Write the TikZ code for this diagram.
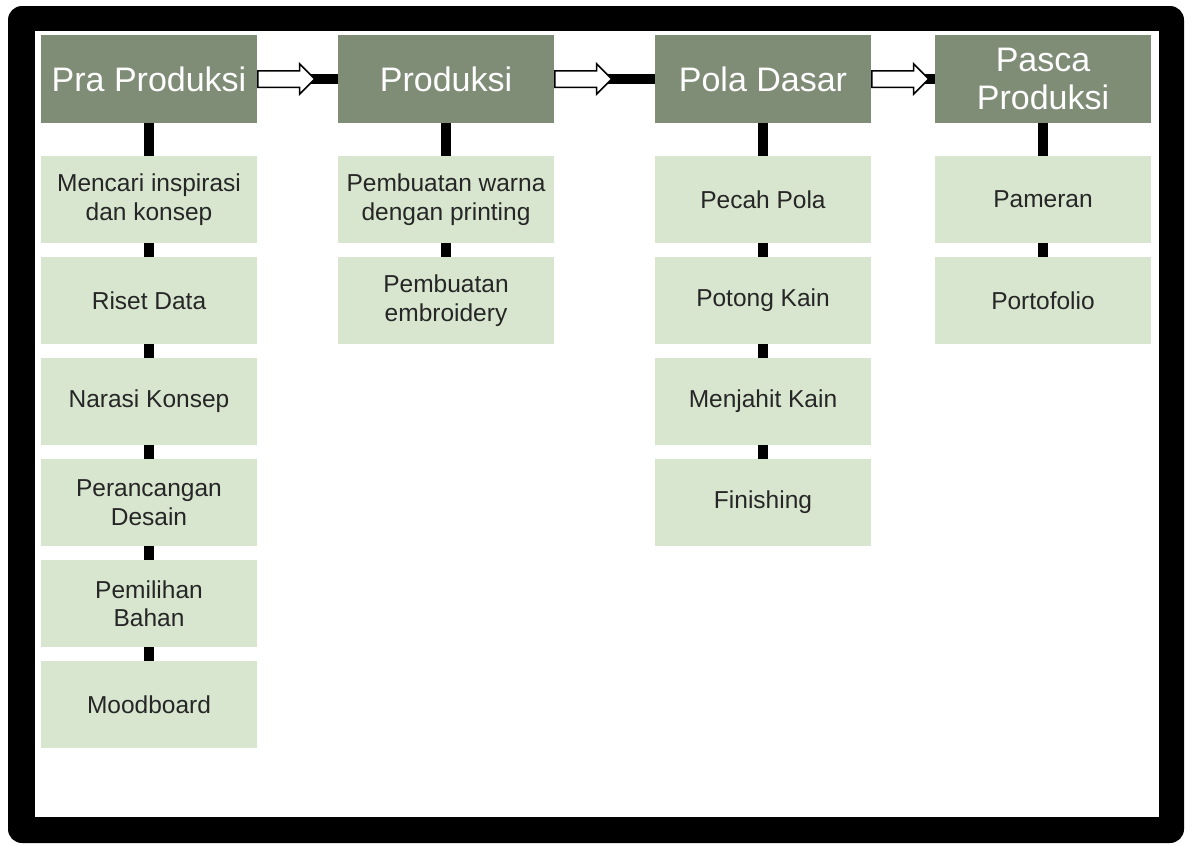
\documentclass[tikz,border=0pt]{standalone}
\usepackage{fontspec}
\setmainfont{Liberation Sans}
\usetikzlibrary{positioning,shapes.arrows}
\definecolor{phasegreen}{RGB}{127,141,119}
\definecolor{taskgreen}{RGB}{216,230,207}
\tikzset{
  boxnode/.style = {align=center, inner sep=0pt, outer sep=0pt, text centered, minimum width=216pt},
  phase/.style = {boxnode, fill=phasegreen, text=white, minimum height=88pt, font=\fontsize{34}{38}\selectfont},
  task/.style = {boxnode, fill=taskgreen, text=black!85, minimum height=87pt, font=\fontsize{24.5}{28.5}\selectfont},
  link/.style = {line width=10.5pt, black},
  flow/.style = {single arrow, draw=black, fill=white, line width=1.5pt, inner xsep=0pt, inner ysep=7.5pt,
                 minimum height=57pt, single arrow head extend=7pt, anchor=west}
}

\begin{document}
\begin{tikzpicture}[x=1pt, y=-1pt]
\useasboundingbox (0,0) rectangle (1192,846);
% frame
\fill[black, rounded corners=14pt] (8,6) rectangle (1184,843);
\fill[white] (35,31) rectangle (1159,817);

% phases
\node [phase] (pra)   at (149,79)  {Pra Produksi};
\node [phase] (prod)  at (446,79)  {Produksi};
\node [phase] (pola)  at (763,79)  {Pola Dasar};
\node [phase] (pasca) at (1043,79) {Pasca\\Produksi};

% pra produksi
\node [task, below=33pt of pra]  (pra1) {Mencari inspirasi\\dan konsep};
\node [task, below=14pt of pra1] (pra2) {Riset Data};
\node [task, below=14pt of pra2] (pra3) {Narasi Konsep};
\node [task, below=14pt of pra3] (pra4) {Perancangan\\Desain};
\node [task, below=14pt of pra4] (pra5) {Pemilihan\\Bahan};
\node [task, below=14pt of pra5] (pra6) {Moodboard};

% produksi
\node [task, below=33pt of prod]  (prod1) {Pembuatan warna\\dengan printing};
\node [task, below=14pt of prod1] (prod2) {Pembuatan\\embroidery};

% pola dasar
\node [task, below=33pt of pola]  (pola1) {Pecah Pola};
\node [task, below=14pt of pola1] (pola2) {Potong Kain};
\node [task, below=14pt of pola2] (pola3) {Menjahit Kain};
\node [task, below=14pt of pola3] (pola4) {Finishing};

% pasca produksi
\node [task, below=33pt of pasca]  (pasca1) {Pameran};
\node [task, below=14pt of pasca1] (pasca2) {Portofolio};

% vertical links
\foreach \a/\b in {pra/pra1, pra1/pra2, pra2/pra3, pra3/pra4, pra4/pra5, pra5/pra6,
                   prod/prod1, prod1/prod2,
                   pola/pola1, pola1/pola2, pola2/pola3, pola3/pola4,
                   pasca/pasca1, pasca1/pasca2}
  \draw [link] (\a.south) -- (\b.north);

% horizontal links with arrows
\foreach \a/\b in {pra/prod, prod/pola, pola/pasca} {
  \draw [link] (\a.east) -- (\b.west);
  \node [flow] (\a-arrow) at (\a.east) {};
}
\end{tikzpicture}
\end{document}
